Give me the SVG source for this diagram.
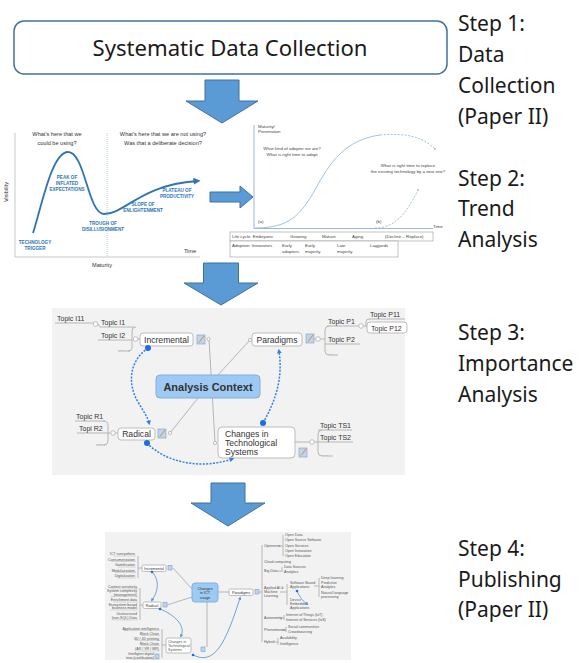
<svg xmlns="http://www.w3.org/2000/svg" width="581" height="663" viewBox="0 0 581 663">
<defs>
<style>
.step{font-family:"Noto Sans","Open Sans",sans-serif;font-size:21px;fill:#1a1a1a}
.big{fill:#5B9BD5;stroke:#41719C;stroke-width:1}
.ax{stroke:#9FB6D8;stroke-width:1;fill:none}
.hc{font-family:"Liberation Sans",Arial,sans-serif;font-size:4.6px;font-weight:bold;fill:#2E75B6;text-anchor:middle}
.q{font-family:"Liberation Sans",Arial,sans-serif;font-size:5.6px;fill:#333;text-anchor:middle}
.sm{font-family:"Liberation Sans",Arial,sans-serif;font-size:4.4px;fill:#444}
.tp{font-family:"Liberation Sans",Arial,sans-serif;font-size:7px;fill:#333}
.dots{font-family:"Liberation Sans",Arial,sans-serif;font-size:7px;fill:#aaa}
.nd{font-family:"Liberation Sans",Arial,sans-serif;font-size:8.6px;fill:#333}
.gl{stroke:#AFAFAF;stroke-width:0.9;fill:none}
.node{fill:#fff;stroke:#B5B5B5;stroke-width:0.9}
.ctr{fill:#9DC9F2;stroke:#7EB1E0;stroke-width:1}
.rel{stroke:#2F7FE6;stroke-width:1.5;stroke-dasharray:2 1.4;fill:none}
.dot{fill:#1A6FE0}
.knob{fill:#fff;stroke:#AFAFAF;stroke-width:0.8}
.ico{fill:#BFD5EF;stroke:#7F9DB9;stroke-width:0.6}
.pen{stroke:#E08A2C;stroke-width:1}
.mt{font-family:"Liberation Sans",Arial,sans-serif;font-size:3.6px;fill:#555}
.mn{font-family:"Liberation Sans",Arial,sans-serif;font-size:3.8px;fill:#333}
.ml{stroke:#BBBBBB;stroke-width:0.5;fill:none}
.mb{stroke:#5B9BD5;stroke-width:0.9;fill:none}
</style>
<marker id="ah" viewBox="0 0 6 6" refX="3" refY="3" markerWidth="3.2" markerHeight="3.2" orient="auto">
<path d="M0,0 L6,3 L0,6 Z" fill="#2F7FE6"/>
</marker>
<marker id="ah2" viewBox="0 0 6 6" refX="3" refY="3" markerWidth="4" markerHeight="4" orient="auto">
<path d="M0,0 L6,3 L0,6 Z" fill="#5B9BD5"/>
</marker>
<marker id="ahc" viewBox="0 0 6 6" refX="3" refY="3" markerWidth="4" markerHeight="4" orient="auto">
<path d="M0,0 L6,3 L0,6 Z" fill="#2E75B6"/>
</marker>
</defs>

<rect width="581" height="663" fill="#fff"/>

<!-- Step 1 -->
<g id="data-collection">
<rect x="14" y="21" width="433" height="53" rx="10" fill="#fff" stroke="#41719C" stroke-width="1.5"/>
<text x="230" y="56" font-family="'Noto Sans','Open Sans',sans-serif" font-size="22" fill="#1a1a1a" text-anchor="middle" textLength="275" lengthAdjust="spacingAndGlyphs">Systematic Data Collection</text>
</g>

<!-- step labels -->
<g id="labels">
<text class="step" x="458" y="31">Step 1:</text>
<text class="step" x="458" y="62">Data</text>
<text class="step" x="458" y="93">Collection</text>
<text class="step" x="458" y="124">(Paper II)</text>
<text class="step" x="458" y="186">Step 2:</text>
<text class="step" x="458" y="216">Trend</text>
<text class="step" x="458" y="247">Analysis</text>
<text class="step" x="458" y="340">Step 3:</text>
<text class="step" x="458" y="371">Importance</text>
<text class="step" x="458" y="402">Analysis</text>
<text class="step" x="458" y="556">Step 4:</text>
<text class="step" x="458" y="587">Publishing</text>
<text class="step" x="458" y="617">(Paper II)</text>
</g>

<!-- block arrows between steps -->
<g id="connectors">
<polygon class="big" points="205,80 239,80 239,101 258,101 222,123 186,101 205,101"/>
<polygon class="big" points="203.5,263 238.5,263 238.5,283 258,283 221,305 184,283 203.5,283"/>
<polygon class="big" points="211,483 245,483 245,503 265,503 228,526 191,503 211,503"/>
<polygon class="big" points="210,192 240,192 240,186 253,197 240,208 240,202 210,202"/>
</g>

<!-- Step 2: hype cycle -->
<g id="hype-cycle">
<line x1="15" y1="133" x2="15" y2="257" stroke="#BBB" stroke-width="0.8"/>
<line x1="15" y1="257" x2="200" y2="257" stroke="#BBB" stroke-width="0.8"/>
<line x1="107" y1="133" x2="107" y2="257" stroke="#9DC3E6" stroke-width="0.8" stroke-dasharray="1 1"/>
<path d="M33,233 C42,205 52,152 68,152 C85,152 88,214 104,214 C125,214 140,185 197,181" fill="none" stroke="#2E75B6" stroke-width="1.8" marker-end="url(#ahc)"/>
<text class="q" x="57" y="136">What's here that we</text>
<text class="q" x="57" y="145">could be using?</text>
<text class="q" x="163" y="136">What's here that we are not using?</text>
<text class="q" x="163" y="145">Was that a deliberate decision?</text>
<text class="hc" x="67" y="179">PEAK OF</text>
<text class="hc" x="67" y="185">INFLATED</text>
<text class="hc" x="67" y="191">EXPECTATIONS</text>
<text class="hc" x="103" y="225">TROUGH OF</text>
<text class="hc" x="103" y="231">DISILLUSIONMENT</text>
<text class="hc" x="143" y="206">SLOPE OF</text>
<text class="hc" x="143" y="212">ENLIGHTENMENT</text>
<text class="hc" x="177" y="192">PLATEAU OF</text>
<text class="hc" x="177" y="198">PRODUCTIVITY</text>
<text class="hc" x="35" y="244">TECHNOLOGY</text>
<text class="hc" x="35" y="250">TRIGGER</text>
<text class="q" x="190" y="253">Time</text>
<text class="q" x="102" y="267">Maturity</text>
<text class="q" transform="translate(8,192) rotate(-90)">Visibility</text>
</g>

<!-- Step 2: adoption curve -->
<g id="adoption-curve">
<line class="ax" x1="254" y1="125" x2="254" y2="229"/>
<line class="ax" x1="254" y1="228.5" x2="433" y2="228.5"/>
<text class="sm" x="258" y="127.5">Maturity/</text>
<text class="sm" x="258" y="132.5">Penetration</text>
<text class="sm" x="433" y="228">Time</text>
<path d="M255,228 C290,228 300,215 315,190 C330,162 345,140 380,135" fill="none" stroke="#9DC3E6" stroke-width="1"/>
<path d="M380,135 C405,133 422,136 435,149" fill="none" stroke="#9DC3E6" stroke-width="1" stroke-dasharray="2 1.5"/>
<circle cx="435" cy="149" r="1" fill="#9DC3E6"/>
<path d="M375,228 C395,228 406,214 418,190" fill="none" stroke="#9DC3E6" stroke-width="1" stroke-dasharray="2 1.5"/>
<circle cx="418" cy="190" r="1" fill="#9DC3E6"/>
<text class="sm" x="258" y="223">(a)</text>
<text class="sm" x="376" y="223">(b)</text>
<text class="sm" x="292" y="150" text-anchor="middle">What kind of adopter we are?</text>
<text class="sm" x="292" y="155.5" text-anchor="middle">What is right time to adopt</text>
<text class="sm" x="408" y="167" text-anchor="middle">What is right time to replace</text>
<text class="sm" x="408" y="172.5" text-anchor="middle">the existing technology by a new one?</text>
<rect x="230" y="232" width="203" height="9" fill="#fff" stroke="#999" stroke-width="0.6"/>
<rect x="230" y="241" width="168" height="16" fill="#fff" stroke="#999" stroke-width="0.6"/>
<text class="sm" x="232" y="238">Life cycle: Embryonic</text>
<text class="sm" x="290" y="238">Growing</text>
<text class="sm" x="322" y="238">Mature</text>
<text class="sm" x="352" y="238">Aging</text>
<text class="sm" x="385" y="238">(Decline – Replace)</text>
<text class="sm" x="232" y="247">Adoption: Innovators</text>
<text class="sm" x="282" y="247">Early</text>
<text class="sm" x="282" y="253">adopters</text>
<text class="sm" x="305" y="247">Early</text>
<text class="sm" x="305" y="253">majority</text>
<text class="sm" x="337" y="247">Late</text>
<text class="sm" x="337" y="253">majority</text>
<text class="sm" x="370" y="247">Laggards</text>
</g>

<!-- Step 3: importance mind map -->
<g id="importance-map">
<rect x="52" y="308" width="353" height="167" fill="#F2F2F2"/>
<g class="gl">
<path d="M209,339 L215,442"/>
<path d="M217,376 L250,340"/>
<path d="M198,398 L170,433"/>
<path d="M140,339 L137.5,339"/>
<path d="M136,327 Q132,327 132,331 L132,348 Q132,351 128,351"/>
<path d="M100,327 L134,327"/>
<path d="M98,340 L132,340"/>
<path d="M118,351 L130,351"/>
<path d="M55,323 L93,323"/>
<path d="M98,324 L100,327"/>
<path d="M118,433 L115.5,433"/>
<path d="M103,421 Q108,421 108,425 L108,441 Q108,445 104,445"/>
<path d="M75,421 L105,421"/>
<path d="M77,433 L110.5,433"/>
<path d="M96,445 L105,445"/>
<path d="M314,339 L315.5,339"/>
<path d="M320.5,339 L325,339"/>
<path d="M329,326 Q325,326 325,330 L325,351 Q325,355 329,355"/>
<path d="M327,326 L358.5,326"/>
<path d="M325,344 L360,344"/>
<path d="M329,355 L338,355"/>
<path d="M363.5,326 L366,326 M366,322 Q366,319 369,319 L405,319 M366,326 L366,322 M366,326 L367,327"/>
<path d="M295,442 L309.5,442"/>
<path d="M314.5,442 L318,442"/>
<path d="M322,430 Q318,430 318,434 L318,452 Q318,456 322,456"/>
<path d="M318,430 L352,430"/>
<path d="M318,442 L353,442"/>
<path d="M322,456 L333,456"/>
</g>

<g id="analysis-context">
<rect class="ctr" x="156" y="375" width="104" height="23" rx="4"/>
<text x="208" y="390.5" font-family="'Liberation Sans',Arial,sans-serif" font-size="11" font-weight="bold" fill="#333" text-anchor="middle">Analysis Context</text>
</g>

<g id="incremental">
<rect class="node" x="140" y="333" width="53" height="13" rx="3"/>
<text class="nd" x="166.5" y="342.6" text-anchor="middle">Incremental</text>
<rect class="ico" x="197" y="335" width="8" height="9"/>
<line class="pen" x1="199" y1="342.5" x2="204" y2="336"/>
<circle class="knob" cx="208.5" cy="339" r="1.6"/>
<circle class="knob" cx="135.5" cy="339" r="2.3"/>
<text class="tp" x="101" y="325">Topic I1</text>
<text class="tp" x="101" y="338">Topic I2</text>
<text class="dots" x="119" y="350.5">...</text>
<text class="tp" x="57" y="321">Topic I11</text>
<circle class="knob" cx="95.5" cy="324" r="2.3"/>
</g>

<g id="radical">
<rect class="node" x="118" y="428" width="37" height="12" rx="3"/>
<text class="nd" x="136.5" y="437" text-anchor="middle">Radical</text>
<rect class="ico" x="158" y="429" width="8" height="9"/>
<line class="pen" x1="160" y1="436.5" x2="165" y2="430"/>
<circle class="knob" cx="170" cy="433" r="1.6"/>
<circle class="knob" cx="113" cy="433" r="2.3"/>
<text class="tp" x="76" y="419">Topic R1</text>
<text class="tp" x="79" y="431">Topi R2</text>
<text class="dots" x="97" y="444.5">...</text>
</g>

<g id="paradigms">
<rect class="node" x="252" y="333" width="50" height="13" rx="3"/>
<text class="nd" x="277" y="342.6" text-anchor="middle">Paradigms</text>
<rect class="ico" x="306" y="334" width="8" height="9"/>
<line class="pen" x1="308" y1="341.5" x2="313" y2="335"/>
<circle class="knob" cx="250" cy="340" r="1.6"/>
<circle class="knob" cx="318" cy="339" r="2.3"/>
<text class="tp" x="328" y="323.5">Topic P1</text>
<text class="tp" x="328" y="341.5">Topic P2</text>
<text class="dots" x="328" y="354.5">...</text>
<circle class="knob" cx="361" cy="326" r="2.3"/>
<text class="tp" x="370" y="317">Topic P11</text>
<rect class="node" x="367" y="322" width="40" height="11" rx="3"/>
<text class="tp" x="371" y="330.5">Topic P12</text>
</g>

<g id="tech-systems">
<rect class="node" x="218" y="427" width="77" height="31" rx="4"/>
<text class="nd" x="225" y="436.5">Changes in</text>
<text class="nd" x="225" y="445.5">Technological</text>
<text class="nd" x="225" y="454.5">Systems</text>
<rect class="ico" x="299" y="448" width="8" height="9"/>
<line class="pen" x1="301" y1="455.5" x2="306" y2="449"/>
<circle class="knob" cx="215" cy="443" r="1.6"/>
<circle class="knob" cx="312" cy="442" r="2.3"/>
<text class="tp" x="320" y="428">Topic TS1</text>
<text class="tp" x="320" y="439.5">Topic TS2</text>
<text class="dots" x="322" y="455.5">...</text>
</g>

<g id="relations">
<path class="rel" d="M148,348 C128,362 128,385 138,402 C144,412 148,418 149,423" marker-end="url(#ah)"/>
<path class="rel" d="M147,443 C165,462 200,470 232,459" marker-end="url(#ah)"/>
<path class="rel" d="M263,423 C276,400 283,378 279,351" marker-end="url(#ah)"/>
<circle class="dot" cx="148" cy="348" r="3"/>
<circle class="dot" cx="147" cy="443" r="3"/>
<circle class="dot" cx="263" cy="423" r="3"/>
</g>
</g>

<!-- Step 4: published mind map -->
<g id="publication-map">
<rect x="105" y="532" width="246" height="128" fill="#F2F2F2"/>
<g class="gl">
<path d="M192,589 L173,568"/>
<path d="M192,597 L167,605"/>
<path d="M207,602 L207,647"/>
<path d="M218,592 L229,592"/>
<path d="M138,556 L138,578 M138,568 L142,568"/>
<path d="M140,588 L140,620 M140,605 L143,605"/>
<path d="M162,629 L162,658 M162,645 L166,645"/>
<path d="M262,545 L262,642 M258,592 L262,592"/>
<path d="M283,535 L283,556 M278,546 L283,546"/>
<path d="M282,567 L282,572 M278,571 L282,571"/>
<path d="M287,584 L287,605 M280,592 L287,592"/>
<path d="M319,578 L319,597 M314,586 L319,586"/>
<path d="M284,615 L284,620 M280,618 L284,618"/>
<path d="M286,627 L286,632 M282,630 L286,630"/>
<path d="M278,638 L278,645 M275,642 L278,642"/>
</g>
<g class="ml">
<path d="M113,556 L136,556 M111,561.5 L136,561.5 M118,567 L136,567 M115,572.5 L136,572.5 M117,578 L136,578"/>
<path d="M110,589 L138,589 M110,596.5 L138,596.5 M113,602 L138,602 M110,610 L138,610 M113,620 L138,620"/>
<path d="M124,630.5 L160,630.5 M141,635.5 L160,635.5 M135,640.5 L160,640.5 M141,645.5 L160,645.5 M137,651 L160,651 M130,659 L160,659"/>
</g>
<g class="mt" text-anchor="end">
<text x="135" y="555">ICT everywhere</text>
<text x="135" y="560.5">Consumerization</text>
<text x="135" y="566">Gamification</text>
<text x="135" y="571.5">Modularization</text>
<text x="135" y="577">Digitalization</text>
<text x="137" y="588">Context sensitivity</text>
<text x="137" y="592">System complexity</text>
<text x="137" y="595.5">(management)</text>
<text x="137" y="601">Enrichment data</text>
<text x="137" y="605.5">Ecosystem based</text>
<text x="137" y="609">business model</text>
<text x="137" y="615">Unstructured</text>
<text x="137" y="619">(non-SQL) Data</text>
<text x="159" y="629.5">Application intelligence</text>
<text x="159" y="634.5">Block Chain</text>
<text x="159" y="639.5">3D / 4D printing</text>
<text x="159" y="644.5">Block Chain</text>
<text x="159" y="650">(AR / VR / MR)</text>
<text x="154" y="654.5">Intelligent digital</text>
<text x="154" y="658.5">twin (certification)</text>
</g>
<rect class="ico" x="155" y="654" width="4" height="4.5"/>

<g id="ict-usage">
<rect class="ctr" x="192" y="583" width="26" height="19" rx="3"/>
<text class="mn" x="205" y="589.5" text-anchor="middle">Changes</text>
<text class="mn" x="205" y="594" text-anchor="middle">in ICT</text>
<text class="mn" x="205" y="598.5" text-anchor="middle">usage</text>
</g>
<g id="pub-incremental">
<rect class="node" x="142" y="565" width="24" height="6.5" rx="1.5" stroke-width="0.5"/>
<text class="mn" x="154" y="569.6" text-anchor="middle">Incremental</text>
<rect class="ico" x="168" y="565.5" width="4" height="4.5"/>
</g>
<g id="pub-radical">
<rect class="node" x="143" y="602" width="18" height="6.5" rx="1.5" stroke-width="0.5"/>
<text class="mn" x="152" y="606.6" text-anchor="middle">Radical</text>
<rect class="ico" x="163" y="602.5" width="4" height="4.5"/>
</g>
<g id="pub-tech-systems">
<rect class="node" x="166" y="638" width="25" height="15" rx="2" stroke-width="0.5"/>
<text class="mt" x="168" y="642.5">Changes in</text>
<text class="mt" x="168" y="646.5">Technological</text>
<text class="mt" x="168" y="650.5">Systems</text>
<rect class="ico" x="201" y="647" width="4" height="4.5"/>
</g>
<g id="pub-paradigms">
<rect class="node" x="229" y="589" width="24" height="6.5" rx="1.5" stroke-width="0.5"/>
<text class="mn" x="241" y="593.6" text-anchor="middle">Paradigms</text>
<rect class="ico" x="255" y="589.5" width="4" height="4.5"/>
</g>
<g class="mt">
<text x="264" y="547">Openness</text>
<text x="285" y="536">Open Data</text>
<text x="285" y="541">Open Source Software</text>
<text x="285" y="546.5">Open Services</text>
<text x="285" y="551.5">Open Innovation</text>
<text x="285" y="556.5">Open Education</text>
<text x="264" y="562.5">Cloud computing</text>
<text x="264" y="571.5">Big Data</text>
<text x="284" y="567.5">Data Sources</text>
<text x="284" y="572.5">Analytics</text>
<text x="264" y="589">Applied AI &amp;</text>
<text x="264" y="593">Machine</text>
<text x="264" y="597">Learning</text>
<text x="290" y="584">Software Based</text>
<text x="290" y="588">Applications</text>
<text x="321" y="578.5">Deep learning</text>
<text x="321" y="583.5">Predictive</text>
<text x="321" y="587.5">Analytics</text>
<text x="321" y="593.5">Natural language</text>
<text x="321" y="597.5">processing</text>
<text x="290" y="600.5">Device</text>
<text x="290" y="604.5">Embedded</text>
<text x="290" y="608.5">Applications</text>
<text x="264" y="618.5">Autonomity</text>
<text x="286" y="615.5">Internet of Things (IoT)</text>
<text x="286" y="620.5">Internet of Services (IoS)</text>
<text x="264" y="630.5">Phenomenon</text>
<text x="288" y="627.5">Social communities</text>
<text x="288" y="632.5">Crowdsourcing</text>
<text x="264" y="642.5">Hybrid</text>
<text x="280" y="638.5">Availability</text>
<text x="280" y="645">Intelligence</text>
</g>
<path class="mb" d="M152,572 C160,580 158,592 152,600" marker-end="url(#ah2)"/>
<path class="mb" d="M160,609 C175,615 186,626 181,636" marker-end="url(#ah2)"/>
<path class="mb" d="M193,655 C215,666 226,642 240,598" marker-end="url(#ah2)"/>
<path class="mb" d="M297,591 C300,598 304,602 307,604" marker-end="url(#ah2)"/>
<circle class="dot" cx="152" cy="572" r="1.3"/>
<circle class="dot" cx="160" cy="609" r="1.3"/>
<circle class="dot" cx="193" cy="655" r="1.3"/>
<circle class="dot" cx="297" cy="591" r="1.3"/>
</g>
</svg>
